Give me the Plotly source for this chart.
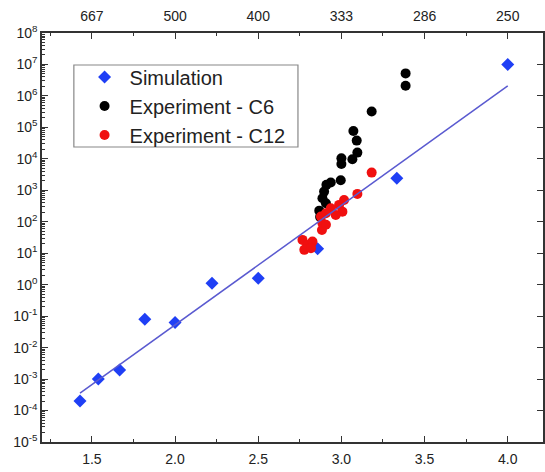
import plotly.graph_objects as go

# Data (x = 1000/T)
sim_x = [1.4286, 1.5385, 1.6667, 1.8182, 2.0, 2.2222, 2.5, 2.8571, 3.3333, 4.0]
sim_y = [2.0e-4, 1.0e-3, 1.95e-3, 0.080, 0.063, 1.12, 1.6, 13.8, 2.4e3, 1.0e7]

c6_x = [3.386, 3.386, 3.182, 3.072, 3.092, 3.096, 3.066, 3.000, 3.000, 2.996,
        2.936, 2.910, 2.896, 2.886, 2.907, 2.867, 2.872]
c6_y = [5.2e6, 2.1e6, 3.2e5, 7.7e4, 3.8e4, 1.58e4, 9.7e3, 1.05e4, 6.9e3, 2.1e3,
        1.76e3, 1.49e3, 910, 560, 390, 226, 143]

c12_x = [3.182, 3.096, 3.016, 2.986, 3.006, 2.966, 2.936, 2.907, 2.877, 2.886,
         2.883, 2.907, 2.766, 2.797, 2.777, 2.826, 2.817]
c12_y = [3.65e3, 770, 495, 344, 210, 165, 270, 186, 146, 90,
         55, 80, 26.5, 18.4, 12.8, 23.4, 14.5]

fit_x = [1.4286, 4.0]
fit_y = [3.6e-4, 2.07e6]

bottom_ticks = [1.5, 2.0, 2.5, 3.0, 3.5, 4.0]
bottom_text = ["1.5", "2.0", "2.5", "3.0", "3.5", "4.0"]
top_text = ["667", "500", "400", "333", "286", "250"]
x_minor = [1.25, 1.75, 2.25, 2.75, 3.25, 3.75]
y_exps = list(range(-5, 9))
y_minor = [k * 10.0 ** e for e in range(-5, 8) for k in range(2, 10)]

FONT = "Liberation Sans, Arial, sans-serif"
AX = "#333333"

fig = go.Figure()
fig.add_trace(go.Scatter(x=sim_x, y=sim_y, mode="markers", name="Simulation",
                         marker=dict(symbol="diamond", size=10, color="#1f3ff5")))
fig.add_trace(go.Scatter(x=c6_x, y=c6_y, mode="markers", name="Experiment - C6",
                         marker=dict(symbol="circle", size=10, color="#000000")))
fig.add_trace(go.Scatter(x=c12_x, y=c12_y, mode="markers", name="Experiment - C12",
                         marker=dict(symbol="circle", size=10, color="#f01010")))
fig.add_trace(go.Scatter(x=fit_x, y=fit_y, mode="lines", showlegend=False,
                         line=dict(color="#5a5ad0", width=1.5)))
# invisible trace that anchors the top (1000/x) axis and the right tick axis
fig.add_trace(go.Scatter(x=[fit_x[0]], y=[fit_y[0]], xaxis="x2", yaxis="y2", mode="markers",
                         marker=dict(opacity=0), showlegend=False, hoverinfo="skip"))

xr = [1.2, 4.212]
yr = [-5, 8]
fig.update_layout(
    width=545, height=472,
    margin=dict(l=42, r=0, t=33, b=30),
    plot_bgcolor="white", paper_bgcolor="white",
    font=dict(family=FONT, size=14, color="#222"),
    xaxis=dict(range=xr, tickmode="array", tickvals=bottom_ticks, ticktext=bottom_text,
               ticks="inside", ticklen=6, tickwidth=1.2, tickcolor=AX,
               showline=True, linecolor=AX, linewidth=1.5, mirror=True,
               showgrid=False, zeroline=False, ticklabelstandoff=3,
               minor=dict(tickmode="array", tickvals=x_minor, ticks="inside",
                          ticklen=3, tickcolor=AX, showgrid=False),
               tickfont=dict(size=14)),
    xaxis2=dict(range=xr, overlaying="x", side="top", anchor="y", tickmode="array",
                tickvals=bottom_ticks, ticktext=top_text,
                ticks="inside", ticklen=6, tickwidth=1.2, tickcolor=AX,
                showgrid=False, zeroline=False, showline=False, ticklabelstandoff=8,
                minor=dict(tickmode="array", tickvals=x_minor, ticks="inside",
                           ticklen=3, tickcolor=AX, showgrid=False),
                tickfont=dict(size=14)),
    yaxis=dict(type="log", range=yr, tickmode="array",
               tickvals=[10.0 ** e for e in y_exps],
               ticktext=["10<sup>%d</sup>" % e for e in y_exps],
               ticks="inside", ticklen=6, tickwidth=1.2, tickcolor=AX,
               showline=True, linecolor=AX, linewidth=1.5, mirror=True,
               showgrid=False, zeroline=False,
               minor=dict(tickmode="array", tickvals=y_minor, ticks="inside",
                          ticklen=3, tickcolor=AX, showgrid=False),
               tickfont=dict(size=14)),
    yaxis2=dict(type="log", range=yr, overlaying="y", side="right", anchor="x",
                tickmode="array", tickvals=[10.0 ** e for e in y_exps],
                showticklabels=False, ticks="inside", ticklen=6, tickwidth=1.2,
                tickcolor=AX, showgrid=False, zeroline=False, showline=False),
    legend=dict(x=0.075, y=0.94, xanchor="left", yanchor="top",
                bgcolor="rgba(255,255,255,0)", borderwidth=0,
                font=dict(size=20, color="#222"), itemwidth=40,
                tracegroupgap=0),
    shapes=[dict(type="rect", xref="paper", yref="paper",
                 x0=0.0636, x1=0.5109, y0=0.7213, y1=0.9218,
                 line=dict(color="#888888", width=1.2))],
)

fig.write_html("out.html", config={"displayModeBar": False},
               post_script="document.body.style.margin='0';document.body.style.overflow='hidden';")
